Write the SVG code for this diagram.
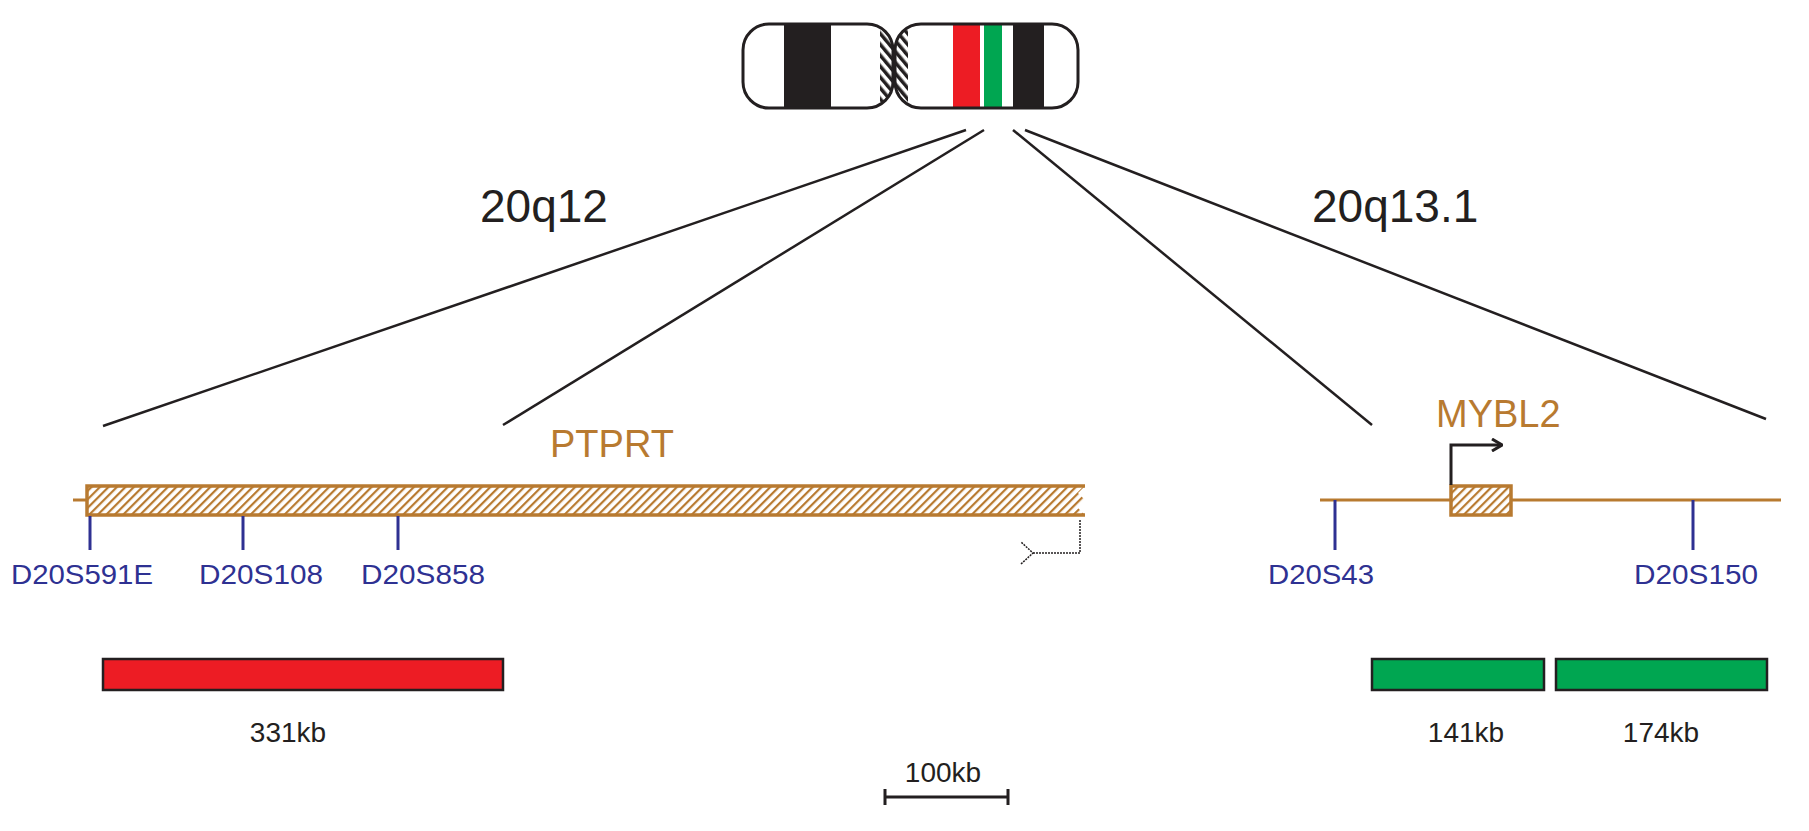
<svg xmlns="http://www.w3.org/2000/svg" width="1809" height="831" viewBox="0 0 1809 831">
<defs>
<pattern id="hatch" width="6" height="6" patternUnits="userSpaceOnUse" patternTransform="rotate(45)">
<rect width="6" height="6" fill="#fff"/><rect width="2.2" height="6" fill="#b87a30"/>
</pattern>
<pattern id="hatchK" width="7" height="7" patternUnits="userSpaceOnUse" patternTransform="rotate(-40)">
<rect width="7" height="7" fill="#fff"/><rect width="3.5" height="7" fill="#231f20"/>
</pattern>
<clipPath id="cl"><rect x="743" y="24" width="150" height="84" rx="26"/></clipPath>
<clipPath id="cr"><rect x="895" y="24" width="183" height="84" rx="26"/></clipPath>
<marker id="ah" markerWidth="12" markerHeight="14" refX="11" refY="7" orient="auto" markerUnits="userSpaceOnUse"><path d="M1,1 L11,7 L1,13" fill="none" stroke="#231f20" stroke-width="3"/></marker>
<marker id="ahd" markerWidth="14" markerHeight="24" refX="1" refY="12" orient="auto" markerUnits="userSpaceOnUse"><path d="M13,1 L1,12 L13,23" fill="none" stroke="#231f20" stroke-width="1.5" stroke-dasharray="2,1"/></marker>
</defs>
<style>
.t{font-family:"Liberation Sans",Arial,sans-serif}
.big{font-size:46px;fill:#231f20}
.mk{font-size:28px;fill:#2e3192}
.gene{font-size:38px;fill:#b87a30}
.kb{font-size:28px;fill:#231f20}
.bl{stroke:#2e3192;stroke-width:3}
.zl{stroke:#231f20;stroke-width:2.5}
</style>
<g id="chromosome">
<g clip-path="url(#cl)"><rect x="743" y="24" width="150" height="84" fill="#fff"/><rect x="784" y="24" width="47" height="84" fill="#231f20"/><rect x="880" y="24" width="14" height="84" fill="url(#hatchK)"/></g>
<g clip-path="url(#cr)"><rect x="895" y="24" width="183" height="84" fill="#fff"/><rect x="894" y="24" width="14" height="84" fill="url(#hatchK)"/><rect x="953" y="24" width="27" height="84" fill="#ed1c24"/><rect x="984" y="24" width="18" height="84" fill="#00a651"/><rect x="1013" y="24" width="31" height="84" fill="#231f20"/></g>
<rect x="743" y="24" width="150" height="84" rx="26" fill="none" stroke="#231f20" stroke-width="3"/>
<rect x="895" y="24" width="183" height="84" rx="26" fill="none" stroke="#231f20" stroke-width="3"/>
</g>
<g id="connectors">
<line class="zl" x1="966" y1="130" x2="103" y2="426"/>
<line class="zl" x1="984" y1="130" x2="503" y2="425"/>
<line class="zl" x1="1013" y1="130" x2="1372" y2="425"/>
<line class="zl" x1="1025" y1="130" x2="1766" y2="419"/>
</g>
<text class="t big" x="480" y="222">20q12</text>
<text class="t big" x="1312" y="222">20q13.1</text>
<g id="ptprt">
<line x1="73" y1="500" x2="87" y2="500" stroke="#b87a30" stroke-width="3"/>
<path d="M87,486 L1085,486 L1078,493 L1085,500 L1078,508 L1085,515 L87,515 Z" fill="url(#hatch)"/>
<path d="M1085,486 L87,486 L87,515 L1085,515" fill="none" stroke="#b87a30" stroke-width="3.5"/>
<text class="t gene" x="550" y="457">PTPRT</text>
<path d="M1080,520 L1080,553 L1033,553" fill="none" stroke="#231f20" stroke-width="1.5" stroke-dasharray="2,1" marker-end="url(#ahd)"/>
</g>
<g id="markers-left">
<line class="bl" x1="90" y1="516" x2="90" y2="550"/>
<line class="bl" x1="243" y1="516" x2="243" y2="550"/>
<line class="bl" x1="398" y1="516" x2="398" y2="550"/>
<text class="t mk" x="11" y="584" textLength="142" lengthAdjust="spacingAndGlyphs">D20S591E</text>
<text class="t mk" x="199" y="584" textLength="124" lengthAdjust="spacingAndGlyphs">D20S108</text>
<text class="t mk" x="361" y="584" textLength="124" lengthAdjust="spacingAndGlyphs">D20S858</text>
</g>
<g id="mybl2">
<line x1="1320" y1="500" x2="1781" y2="500" stroke="#b87a30" stroke-width="3"/>
<rect x="1451" y="486" width="60" height="29" fill="url(#hatch)" stroke="#b87a30" stroke-width="3.5"/>
<path d="M1451,485 L1451,445 L1502,445" fill="none" stroke="#231f20" stroke-width="3" marker-end="url(#ah)"/>
<text class="t gene" x="1436" y="427">MYBL2</text>
</g>
<g id="markers-right">
<line class="bl" x1="1335" y1="500" x2="1335" y2="550"/>
<line class="bl" x1="1693" y1="500" x2="1693" y2="550"/>
<text class="t mk" x="1268" y="584" textLength="106" lengthAdjust="spacingAndGlyphs">D20S43</text>
<text class="t mk" x="1634" y="584" textLength="124" lengthAdjust="spacingAndGlyphs">D20S150</text>
</g>
<g id="bars">
<rect x="103" y="659" width="400" height="31" fill="#ed1c24" stroke="#231f20" stroke-width="2.5"/>
<rect x="1372" y="659" width="172" height="31" fill="#00a651" stroke="#231f20" stroke-width="2.5"/>
<rect x="1556" y="659" width="211" height="31" fill="#00a651" stroke="#231f20" stroke-width="2.5"/>
<text class="t kb" x="288" y="742" text-anchor="middle">331kb</text>
<text class="t kb" x="1466" y="742" text-anchor="middle">141kb</text>
<text class="t kb" x="1661" y="742" text-anchor="middle">174kb</text>
</g>
<g id="scale">
<path d="M885,797 L1008,797 M885,789 L885,805 M1008,789 L1008,805" stroke="#231f20" stroke-width="3" fill="none"/>
<text class="t kb" x="943" y="782" text-anchor="middle">100kb</text>
</g>
</svg>
